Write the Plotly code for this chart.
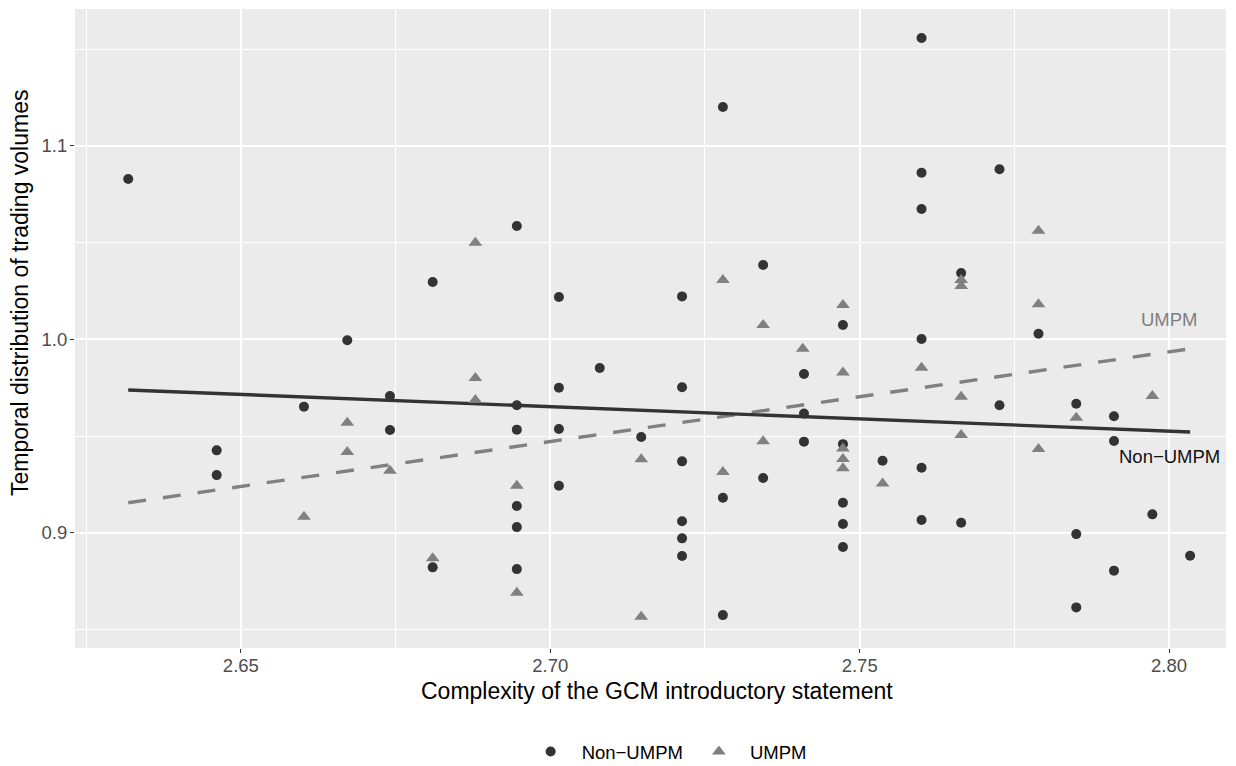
import plotly.graph_objects as go

# ---- data ----
non_x = [2.6318, 2.6810, 2.6946, 2.7279, 2.7014, 2.7213, 2.7344, 2.7600, 2.7600, 2.7726,
         2.7600, 2.7664, 2.7473, 2.6672, 2.6741, 2.6602, 2.6741, 2.6461, 2.6461, 2.6810,
         2.7410, 2.7080, 2.7014, 2.7213, 2.6946, 2.7410, 2.6946, 2.7014, 2.7410, 2.7147,
         2.7213, 2.7344, 2.7014, 2.7279, 2.6946, 2.6946, 2.7213, 2.7213, 2.7213, 2.6946,
         2.7279, 2.7600, 2.7789, 2.7726, 2.7850, 2.7911, 2.7911, 2.7473, 2.7537, 2.7600,
         2.7473, 2.7473, 2.7473, 2.7600, 2.7664, 2.7973, 2.7850, 2.8034, 2.7911, 2.7850]
non_y = [1.0829, 1.0296, 1.0586, 1.1201, 1.0219, 1.0222, 1.0384, 1.1558, 1.0861, 1.0879,
         1.0674, 1.0343, 1.0074, 0.9995, 0.9707, 0.9652, 0.9531, 0.9426, 0.9298, 0.8821,
         0.9821, 0.9852, 0.9750, 0.9752, 0.9659, 0.9616, 0.9533, 0.9536, 0.9471, 0.9495,
         0.9369, 0.9283, 0.9243, 0.9181, 0.9138, 0.9029, 0.9059, 0.8971, 0.8880, 0.8812,
         0.8574, 1.0002, 1.0029, 0.9659, 0.9667, 0.9602, 0.9474, 0.9458, 0.9372, 0.9336,
         0.9155, 0.9045, 0.8926, 0.9066, 0.9052, 0.9095, 0.8993, 0.8881, 0.8804, 0.8614]

umpm_x = [2.6879, 2.7279, 2.7344, 2.7789, 2.7664, 2.7664, 2.7473, 2.7789, 2.6672, 2.6672,
          2.6741, 2.6602, 2.6810, 2.7408, 2.6879, 2.6879, 2.7344, 2.7147, 2.7279, 2.6946,
          2.6946, 2.7147, 2.7473, 2.7600, 2.7664, 2.7973, 2.7850, 2.7664, 2.7789, 2.7473,
          2.7473, 2.7473, 2.7537]
umpm_y = [1.0499, 1.0307, 1.0074, 1.0562, 1.0307, 1.0276, 1.0177, 1.0181, 0.9569, 0.9417,
          0.9321, 0.9083, 0.8868, 0.9951, 0.9800, 0.9686, 0.9473, 0.9380, 0.9314, 0.9243,
          0.8690, 0.8566, 0.9829, 0.9853, 0.9703, 0.9707, 0.9595, 0.9505, 0.9433, 0.9436,
          0.9381, 0.9333, 0.9255]

# fitted lines (endpoints)
fit_x = [2.6318, 2.8034]
fit_non_y = [0.9738, 0.9521]
fit_umpm_y = [0.9155, 0.9951]

x_ticks = [2.65, 2.70, 2.75, 2.80]
x_tick_labels = ["2.65", "2.70", "2.75", "2.80"]
y_ticks = [0.9, 1.0, 1.1]
y_tick_labels = ["0.9", "1.0", "1.1"]

DARK = "#333333"
GREY = "#808080"
FONT = "Liberation Sans, Arial, sans-serif"
FS = 18.5

fig = go.Figure()
fig.add_trace(go.Scatter(x=fit_x, y=fit_umpm_y, mode="lines", showlegend=False,
                         line=dict(color=GREY, width=3.4, dash="18px,17px")))
fig.add_trace(go.Scatter(x=fit_x, y=fit_non_y, mode="lines", showlegend=False,
                         line=dict(color=DARK, width=3.4)))
fig.add_trace(go.Scatter(x=non_x, y=non_y, mode="markers", name="Non\u2212UMPM",
                         marker=dict(symbol="circle", size=10, color=DARK)))
fig.add_trace(go.Scatter(x=umpm_x, y=umpm_y, mode="markers", name="UMPM",
                         marker=dict(symbol="triangle-up", size=12, color=GREY)))

fig.add_annotation(x=2.80, y=1.010, text="UMPM", showarrow=False,
                   font=dict(family=FONT, size=FS, color=GREY))
fig.add_annotation(x=2.80, y=0.9393, text="Non\u2212UMPM", showarrow=False,
                   font=dict(family=FONT, size=FS, color="#111111"))

# axis titles
fig.add_annotation(xref="paper", yref="paper", x=0.5055, y=-0.068, yanchor="middle",
                   text="Complexity of the GCM introductory statement", showarrow=False,
                   font=dict(family=FONT, size=23, color="black"))
fig.add_annotation(xref="paper", yref="paper", x=-0.0478, y=0.557, xanchor="center",
                   yanchor="middle", textangle=-90,
                   text="Temporal distribution of trading volumes", showarrow=False,
                   font=dict(family=FONT, size=23, color="black"))

fig.update_layout(
    width=1236, height=766,
    margin=dict(l=75, r=10, t=9, b=118, autoexpand=False),
    paper_bgcolor="white", plot_bgcolor="#EBEBEB",
    font=dict(family=FONT, size=FS, color="#4D4D4D"),
    showlegend=True,
    legend=dict(orientation="h", x=0.3863, xanchor="left", y=-0.1628, yanchor="middle",
                font=dict(family=FONT, size=FS, color="black"), bgcolor="rgba(0,0,0,0)",
                itemwidth=52),
)
fig.update_xaxes(range=[2.6232, 2.8092], tickmode="array", tickvals=x_ticks,
                 ticktext=x_tick_labels, ticks="outside", ticklen=4, tickwidth=1.3,
                 tickcolor=DARK, showgrid=True, gridcolor="white", gridwidth=1.8,
                 zeroline=False, showline=False, ticklabelstandoff=-3,
                 tickfont=dict(family=FONT, size=FS, color="#4D4D4D"),
                 minor=dict(tickvals=[2.625, 2.675, 2.725, 2.775], showgrid=True,
                            gridcolor="white", gridwidth=0.9))
fig.update_yaxes(range=[0.8404, 1.1708], tickmode="array", tickvals=y_ticks,
                 ticktext=y_tick_labels, ticks="outside", ticklen=4, tickwidth=1.3,
                 tickcolor=DARK, showgrid=True, gridcolor="white", gridwidth=1.8,
                 zeroline=False, showline=False, ticklabelstandoff=-1,
                 tickfont=dict(family=FONT, size=FS, color="#4D4D4D"),
                 minor=dict(tickvals=[0.85, 0.95, 1.05, 1.15], showgrid=True,
                            gridcolor="white", gridwidth=0.9))

fig.write_html("out.html")
